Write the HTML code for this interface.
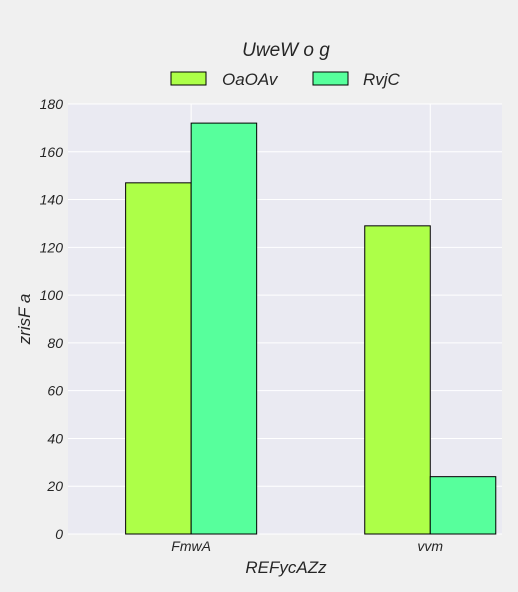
<!DOCTYPE html>
<html><head><meta charset="utf-8"><style>
body{margin:0;background:#f0f0f0;}
svg{display:block;font-family:"Liberation Sans",sans-serif;font-style:italic;}
</style></head><body>
<svg id="chart" width="518" height="592">
<rect x="0" y="0" width="518" height="592" fill="#f0f0f0"/>
<rect x="68" y="104" width="434" height="430" fill="#eaeaf2"/>
<g id="grid"></g><g id="bars"></g><g id="ticks"></g>
<text x="286" y="56" font-size="19" fill="#262626" text-anchor="middle">UweW o g</text>
<g>
<rect x="171" y="72" width="35" height="13" fill="#adff48" stroke="#000" stroke-width="1"/>
<text x="222" y="85" font-size="17" fill="#262626">OaOAv</text>
<rect x="313" y="72" width="35" height="13" fill="#57ff9c" stroke="#000" stroke-width="1"/>
<text x="363" y="85" font-size="17" fill="#262626">RvjC</text>
</g>
<text x="286" y="573" font-size="17" fill="#262626" text-anchor="middle">REFycAZz</text>
<text transform="translate(30,319) rotate(-90)" font-size="17" fill="#262626" text-anchor="middle">zrisF a</text>
</svg>
<script>
const categories=["FmwA","vvm"];
const seriesNames=["OaOAv","RvjC"];
const seriesA=[147,129];
const seriesB=[172,24];
const yTicks=[0,20,40,60,80,100,120,140,160,180];
const colors=["#adff48","#57ff9c"];
const NS="http://www.w3.org/2000/svg";
const L=68,R=502,T=104,B=534;
const yMax=180, xMin=-0.515, xMax=1.3;
function ys(v){return B-(v/yMax)*(B-T);}
function xs(i){return L+(i-xMin)/(xMax-xMin)*(R-L);}
function mk(tag,attrs,parent){const e=document.createElementNS(NS,tag);for(const k in attrs)e.setAttribute(k,attrs[k]);parent.appendChild(e);return e;}
const grid=document.getElementById('grid'),bars=document.getElementById('bars'),ticks=document.getElementById('ticks');
yTicks.forEach(v=>{
  const y=ys(v);
  const g=mk('line',{x1:L,x2:R,y1:y,y2:y,stroke:'#fff','stroke-width':1},grid);
  
  
  const t=mk('text',{x:L-5,y:y+5,'font-size':14,fill:'#262626','text-anchor':'end'},ticks);
  t.textContent=v;
  
  
});
const bw=(xs(1)-xs(0))*0.274;
categories.forEach((c,i)=>{
  const x=xs(i);
  const g=mk('line',{x1:x,x2:x,y1:T,y2:B,stroke:'#fff','stroke-width':1},grid);
  
  
  [seriesA,seriesB].forEach((s,k)=>{
    const v=s[i];
    const r=mk('rect',{x:k===0?x-bw:x,y:ys(v),width:bw,height:B-ys(v),fill:colors[k],stroke:'#000','stroke-width':1},bars);
    
    
  });
  const t=mk('text',{x:x,y:B+17,'font-size':14,fill:'#262626','text-anchor':'middle'},ticks);
  t.textContent=c;
  
  
});
</script>
</body></html>
